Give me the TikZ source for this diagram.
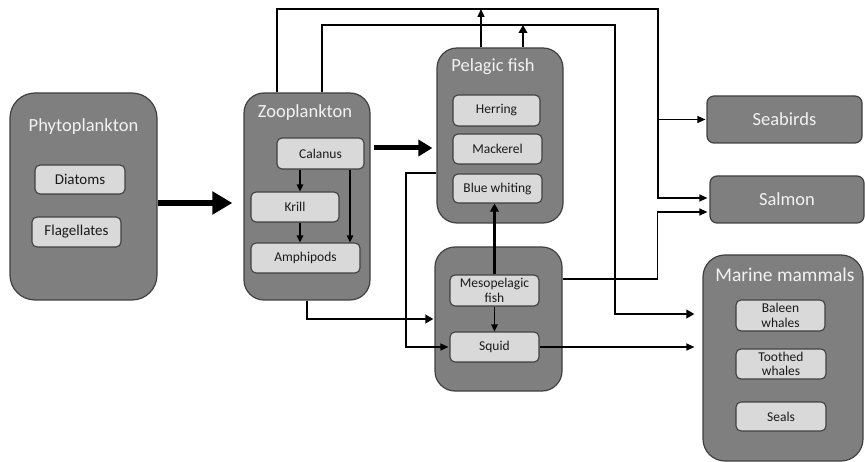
\documentclass[tikz,border=0pt]{standalone}
\usepackage{fontspec}
\setmainfont{Carlito}
\usetikzlibrary{arrows.meta,calc}
\definecolor{dgray}{HTML}{7F7F7F}
\definecolor{bord}{HTML}{404040}
\definecolor{lgray}{HTML}{D9D9D9}
\definecolor{titlecol}{HTML}{F2F2F2}
\definecolor{ink}{HTML}{1A1A1A}
\begin{document}
\begin{tikzpicture}[x=1pt,y=-1pt,
 outerbox/.style={draw=bord, fill=dgray, line width=1.2pt, rounded corners=20pt, inner sep=0pt},
 innerbox/.style={draw=bord, fill=lgray, line width=1.1pt, rounded corners=5pt, inner sep=0pt, align=center, text=ink, font=\fontsize{13.5}{14.5}\selectfont},
 titletext/.style={text=titlecol, font=\fontsize{18.5}{20}\selectfont, inner sep=0pt},
 thinarr/.style={line width=1.3pt, -{Triangle[length=8pt,width=7pt]}},
 smallarr/.style={line width=1.2pt, -{Triangle[length=7pt,width=6.5pt]}},
 medarr/.style={line width=2.6pt, -{Triangle[length=8pt,width=8.5pt]}},
 bigarr/.style={line width=5pt, -{Triangle[length=14pt,width=16pt]}},
 hugearr/.style={line width=6pt, -{Triangle[length=20pt,width=22pt]}}
]
\useasboundingbox (0,0) rectangle (865,462);

% Phytoplankton
\node[outerbox, rounded corners=25pt, minimum width=147pt, minimum height=207pt] (phyto) at (83.5,196.5) {};
\node[titletext] (phytot) at (83.5,127) {Phytoplankton};
\node[innerbox, font=\fontsize{15}{16}\selectfont, minimum width=90pt, minimum height=29pt] (diatoms) at (80,179.5) {Diatoms};
\node[innerbox, font=\fontsize{15}{16}\selectfont, minimum width=89pt, minimum height=30pt] (flag) at (76.5,232) {Flagellates};

% Zooplankton
\node[outerbox, minimum width=126pt, minimum height=207pt] (zoo) at (307,196.5) {};
\node[titletext] (zoot) at (305,113) {Zooplankton};
\node[innerbox, minimum width=87pt, minimum height=31pt] (calanus) at (320.5,153.5) {Calanus};
\node[innerbox, minimum width=88pt, minimum height=30pt] (krill) at (295,207) {Krill};
\node[innerbox, minimum width=109pt, minimum height=30pt] (amphi) at (305.5,258) {Amphipods};

% Pelagic fish
\node[outerbox, minimum width=126pt, minimum height=175pt] (pel) at (500,135.5) {};
\node[titletext] (pelt) at (493,67) {Pelagic fish};
\node[innerbox, minimum width=87pt, minimum height=31pt] (herring) at (496.5,110.5) {Herring};
\node[innerbox, minimum width=89pt, minimum height=30pt] (mackerel) at (497.5,149) {Mackerel};
\node[innerbox, minimum width=89pt, minimum height=29pt] (blue) at (497.5,188.5) {Blue whiting};

% Mesopelagic / squid
\node[outerbox, minimum width=127pt, minimum height=144pt] (meso) at (498.5,319) {};
\node[innerbox, minimum width=89pt, minimum height=31pt] (mesofish) at (494.5,290.5) {Mesopelagic\\fish};
\node[innerbox, minimum width=89pt, minimum height=30pt] (squid) at (494.5,347) {Squid};

% Predators
\node[outerbox, rounded corners=7pt, minimum width=155pt, minimum height=47pt, titletext] (seabirds) at (784.5,119.5) {Seabirds};
\node[outerbox, rounded corners=7pt, minimum width=154pt, minimum height=47pt, titletext] (salmon) at (787,199.5) {Salmon};
\node[outerbox, rounded corners=22pt, minimum width=160pt, minimum height=206pt] (mammals) at (783,358) {};
\node[titletext, font=\fontsize{19.5}{21}\selectfont] (mamt) at (785,275) {Marine mammals};
\node[innerbox, minimum width=89pt, minimum height=31pt] (baleen) at (780.5,315.5) {Baleen\\whales};
\node[innerbox, minimum width=90pt, minimum height=30pt] (toothed) at (781,364) {Toothed\\whales};
\node[innerbox, minimum width=90pt, minimum height=29pt] (seals) at (781,416.5) {Seals};

% routing coordinates
\coordinate (xk) at (300,0);
\coordinate (xa) at (350,0);
\coordinate (xl) at (406,0);
\coordinate (xz1) at (277,0);
\coordinate (xz2) at (322,0);
\coordinate (xp1) at (481,0);
\coordinate (xp2) at (523,0);
\coordinate (tr) at (658,9);
\coordinate (tr2) at (615,25);

% connectors
\draw[hugearr] ($(phyto.east)+(0,6.5)$) -- ($(zoo.west)+(-11,6.5)$);
\draw[bigarr] ($(zoo.east)+(3,-48.5)$) -- ($(pel.west)+(-4,12.5)$);
\draw[smallarr] (calanus.south -| xk) -- (krill.north -| xk);
\draw[smallarr] (krill.south -| xk) -- (amphi.north -| xk);
\draw[smallarr] (calanus.south -| xa) -- (amphi.north -| xa);
\draw[medarr] (zoo.south) |- ($(meso.west)+(-1,0)$);
\draw[medarr] (mesofish.north) -- (mesofish.north |- blue.south);
\draw[smallarr] (mesofish.south) -- (squid.north);
\draw[thinarr] ($(pel.west)+(0,37.5)$) -| (xl |- squid.west) -- ($(squid.west)+(-1,0)$);
\draw[thinarr] (zoo.north -| xz1) |- (tr) |- ($(salmon.west)+(-2,-1.5)$);
\draw[thinarr] (tr |- seabirds.west) -- ($(seabirds.west)+(-1,0)$);
\draw[thinarr] (pel.north -| xp1) -- (xp1 |- tr);
\draw[medarr] (zoo.north -| xz2) |- (tr2) |- ($(mammals.west)+(-8,-44)$);
\draw[medarr] (pel.north -| xp2) -- (xp2 |- tr2);
\draw[thinarr] ($(meso.east)+(0,-40)$) -| ($(salmon.west)+(-52,12.5)$) -- ($(salmon.west)+(-2,12.5)$);
\draw[thinarr] (squid.east) -- ($(mammals.west)+(-8,-11)$);
\end{tikzpicture}
\end{document}
